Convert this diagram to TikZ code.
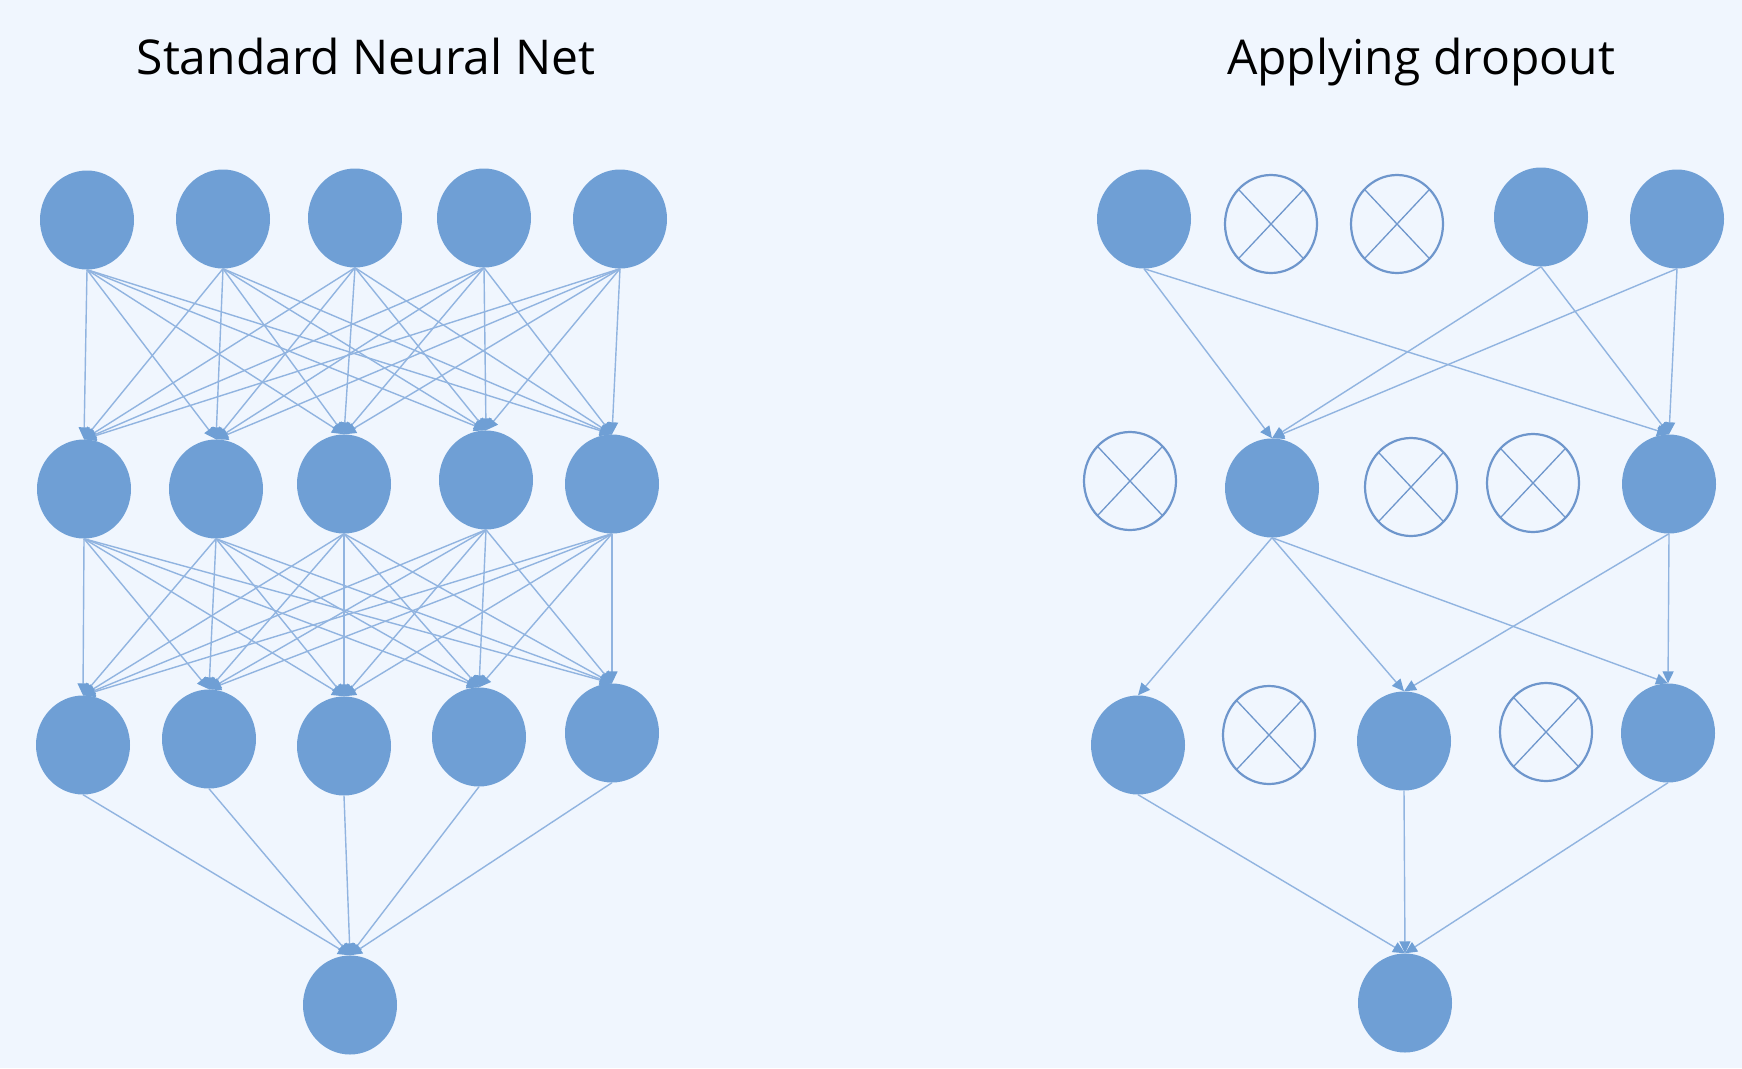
\documentclass[tikz,border=0pt]{standalone}
\usepackage{fontspec}
\setmainfont{Open Sans}
\usetikzlibrary{shapes.geometric,arrows.meta}
\definecolor{bgc}{RGB}{240,246,254}
\definecolor{nfill}{RGB}{111,159,213}
\definecolor{lcol}{RGB}{145,180,224}
\definecolor{dropc}{RGB}{110,150,204}
\tikzset{
  neu/.style={ellipse, fill=nfill, draw=none, minimum width=94pt, minimum height=99pt, inner sep=0pt},
  drop/.style={ellipse, draw=dropc, line width=2.2pt, minimum width=92pt, minimum height=98pt, inner sep=0pt,
    path picture={\draw[line width=1.3pt, dropc]
      (path picture bounding box.north west) -- (path picture bounding box.south east)
      (path picture bounding box.north east) -- (path picture bounding box.south west);}},
  conn/.style={draw=lcol, line width=1.4pt, -{Triangle[length=12pt,width=11pt,color=nfill]}},
  ttl/.style={anchor=base, font=\fontsize{48}{56}\selectfont, text=black}
}
\begin{document}
\begin{tikzpicture}[x=1pt,y=-1pt]
\useasboundingbox[fill=bgc] (0,0) rectangle (1742,1068);
% titles
\node[ttl] (t1) at (366,74) {Standard Neural Net};
\node[ttl] (t2) at (1421,74) {Applying dropout};
% left network
\node[neu] (la1) at (87,220) {};
\node[neu] (la2) at (223,219) {};
\node[neu] (la3) at (355,218) {};
\node[neu] (la4) at (484,218) {};
\node[neu] (la5) at (620,219) {};
\node[neu] (lb1) at (84,489) {};
\node[neu] (lb2) at (216,489) {};
\node[neu] (lb3) at (344,484) {};
\node[neu] (lb4) at (486,480) {};
\node[neu] (lb5) at (612,484) {};
\node[neu] (lc1) at (83,745) {};
\node[neu] (lc2) at (209,739) {};
\node[neu] (lc3) at (344,746) {};
\node[neu] (lc4) at (479,737) {};
\node[neu] (lc5) at (612,733) {};
\node[neu] (lo) at (350,1005) {};
\foreach \i in {1,...,5}{
  \foreach \j in {1,...,5}{
    \draw[conn] (la\i.south) -- (lb\j.north);
    \draw[conn] (lb\i.south) -- (lc\j.north);
  }
  \draw[conn] (lc\i.south) -- (lo.north);
}
% right network
\node[neu]  (ra1) at (1144,219) {};
\node[drop] (ra2) at (1271,224) {};
\node[drop] (ra3) at (1397,224) {};
\node[neu]  (ra4) at (1541,217) {};
\node[neu]  (ra5) at (1677,219) {};
\node[drop] (rb1) at (1130,481) {};
\node[neu]  (rb2) at (1272,488) {};
\node[drop] (rb3) at (1411,487) {};
\node[drop] (rb4) at (1533,483) {};
\node[neu]  (rb5) at (1669,484) {};
\node[neu]  (rc1) at (1138,745) {};
\node[drop] (rc2) at (1269,735) {};
\node[neu]  (rc3) at (1404,741) {};
\node[drop] (rc4) at (1546,732) {};
\node[neu]  (rc5) at (1668,733) {};
\node[neu]  (ro) at (1405,1003) {};
\foreach \s in {ra1,ra4,ra5}{
  \draw[conn] (\s.south) -- (rb2.north);
  \draw[conn] (\s.south) -- (rb5.north);
}
\foreach \t in {rc1,rc3,rc5}{
  \draw[conn] (rb2.south) -- (\t.north);
}
\draw[conn] (rb5.south) -- (rc3.north);
\draw[conn] (rb5.south) -- (rc5.north);
\foreach \s in {rc1,rc3,rc5}{
  \draw[conn] (\s.south) -- (ro.north);
}
\end{tikzpicture}
\end{document}
